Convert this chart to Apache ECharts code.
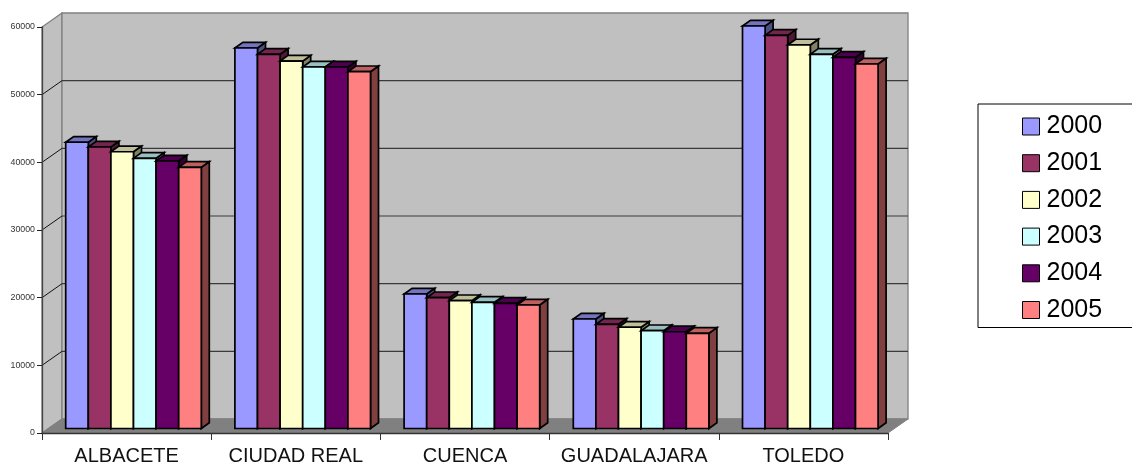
<!DOCTYPE html>
<html>
<head>
<meta charset="utf-8">
<style>html,body{margin:0;padding:0;background:#fff}#chart{width:1132px;height:464px}</style>
<script src="https://cdn.jsdelivr.net/npm/echarts@6/dist/echarts.min.js"></script>
</head>
<body>
<div id="chart"></div>
<script>
// Provinces on the category axis
const provinces = ['ALBACETE', 'CIUDAD REAL', 'CUENCA', 'GUADALAJARA', 'TOLEDO'];

// One value per province, for each year
const y2000 = [42300, 56230, 19880, 16180, 59480];
const y2001 = [41600, 55300, 19330, 15400, 58100];
const y2002 = [40900, 54300, 18890, 14960, 56680];
const y2003 = [39930, 53420, 18650, 14450, 55300];
const y2004 = [39530, 53420, 18500, 14300, 54860];
const y2005 = [38600, 52730, 18250, 14070, 53870];

const years = ['2000', '2001', '2002', '2003', '2004', '2005'];
const yearValues = [y2000, y2001, y2002, y2003, y2004, y2005];
const yearColors = ['#9999FF', '#993366', '#FFFFCC', '#CCFFFF', '#660066', '#FF8080'];

const wallTicks = [10000, 20000, 30000, 40000, 50000];

// Oblique projection used for the pseudo-3D look
const WALL_DX = 20, WALL_DY = 14;      // depth of the whole plot box
const BAR_W = 22.6;                    // front face width
const BAR_DX = 8, BAR_DY = 5.7;        // depth of one bar
const BASE_DX = 6.9, BASE_DY = 4.5;    // bars stand slightly behind the front edge

function shade(hex, k) {
  const n = parseInt(hex.slice(1), 16);
  const c = s => Math.round(((n >> s) & 255) * k);
  return `rgb(${c(16)},${c(8)},${c(0)})`;
}
const poly = (points, fill, stroke, lineWidth) => ({
  type: 'polygon', shape: { points }, style: { fill, stroke, lineWidth }
});
const line = (a, b, stroke, lineWidth) => ({
  type: 'line', shape: { x1: a[0], y1: a[1], x2: b[0], y2: b[1] }, style: { stroke, lineWidth }
});

// Side wall, back wall and floor of the plot box
function renderWalls(params) {
  const r = params.coordSys;
  const l = r.x, t = r.y, b = r.y + r.height, e = r.x + r.width;
  const edge = '#808080';
  return {
    type: 'group',
    children: [
      poly([[l, b], [l + WALL_DX, b - WALL_DY], [l + WALL_DX, t - WALL_DY], [l, t]], '#C0C0C0', edge, 1.3),
      poly([[l + WALL_DX, b - WALL_DY], [e + WALL_DX, b - WALL_DY], [e + WALL_DX, t - WALL_DY], [l + WALL_DX, t - WALL_DY]], '#C0C0C0', edge, 1.3),
      poly([[l, b], [e, b], [e + WALL_DX, b - WALL_DY], [l + WALL_DX, b - WALL_DY]], '#808080', edge, 1)
    ]
  };
}

// A gridline folds from the side wall onto the back wall
function renderGridline(params, api) {
  const r = params.coordSys;
  const y = api.coord([0, api.value(1)])[1];
  return {
    type: 'group',
    children: [
      line([r.x, y], [r.x + WALL_DX, y - WALL_DY], '#111', 1),
      line([r.x + WALL_DX, y - WALL_DY], [r.x + r.width + WALL_DX, y - WALL_DY], '#3a3a3a', 1.2)
    ]
  };
}

// Front, top and side faces of one bar
function barRenderer(seriesIndex) {
  const color = yearColors[seriesIndex];
  return function (params, api) {
    const base = api.coord([api.value(0), 0]);
    const top = api.coord([api.value(0), api.value(1)]);
    const x0 = base[0] + BASE_DX + (seriesIndex - 3) * BAR_W;
    const x1 = x0 + BAR_W;
    const yb = base[1] - BASE_DY;
    const yt = top[1] - BASE_DY;
    const lw = 1.7;
    return {
      type: 'group',
      children: [
        poly([[x1, yb], [x1 + BAR_DX, yb - BAR_DY], [x1 + BAR_DX, yt - BAR_DY], [x1, yt]], shade(color, 0.5), '#000', lw),
        poly([[x0, yt], [x1, yt], [x1 + BAR_DX, yt - BAR_DY], [x0 + BAR_DX, yt - BAR_DY]], shade(color, 0.75), '#000', lw),
        poly([[x0, yb], [x1, yb], [x1, yt], [x0, yt]], color, '#000', lw)
      ]
    };
  };
}

const series = [
  { type: 'custom', name: 'walls', z: 1, silent: true, data: [[0, 0]], renderItem: renderWalls },
  { type: 'custom', name: 'gridlines', z: 2, silent: true, data: wallTicks.map(v => [0, v]), renderItem: renderGridline }
];
years.forEach((year, s) => {
  series.push({
    type: 'custom',
    name: year,
    z: 4,
    itemStyle: { color: yearColors[s] },
    data: yearValues[s].map((v, i) => [i, v]),
    renderItem: barRenderer(s)
  });
});

const chart = echarts.init(document.getElementById('chart'), null, { renderer: 'canvas' });
chart.setOption({
  animation: false,
  backgroundColor: '#fff',
  textStyle: { fontFamily: 'Liberation Sans' },
  grid: { left: 42, top: 27, width: 846, height: 406, outerBoundsMode: 'none' },
  xAxis: {
    type: 'category',
    data: provinces,
    z: 3,
    axisLine: { lineStyle: { color: '#333', width: 1.3 } },
    axisTick: { show: true, interval: 0, length: 7, lineStyle: { color: '#333', width: 1 } },
    axisLabel: { interval: 0, hideOverlap: false, fontFamily: 'Liberation Sans', fontSize: 20, color: '#111', margin: 13 },
    splitLine: { show: false }
  },
  yAxis: {
    type: 'value',
    min: 0,
    max: 60000,
    interval: 10000,
    z: 3,
    axisLine: { show: true, lineStyle: { color: '#444', width: 1.3 } },
    axisTick: { show: true, length: 5, lineStyle: { color: '#222', width: 1 } },
    axisLabel: { fontFamily: 'Liberation Sans', fontSize: 8.8, color: '#333', margin: 7, padding: [2, 0, 0, 0], formatter: v => String(v) },
    splitLine: { show: false }
  },
  legend: {
    data: years,
    orient: 'vertical',
    left: 978,
    top: 104,
    padding: [10, 40, 5, 44],
    itemWidth: 17,
    itemHeight: 17,
    itemGap: 11.7,
    icon: 'rect',
    borderColor: '#000',
    borderWidth: 1,
    backgroundColor: '#fff',
    selectedMode: false,
    itemStyle: { borderColor: '#000', borderWidth: 1 },
    textStyle: { fontFamily: 'Liberation Sans', fontSize: 25, color: '#000', padding: [0, 0, 0, 2] }
  },
  series
});
</script>
</body>
</html>
